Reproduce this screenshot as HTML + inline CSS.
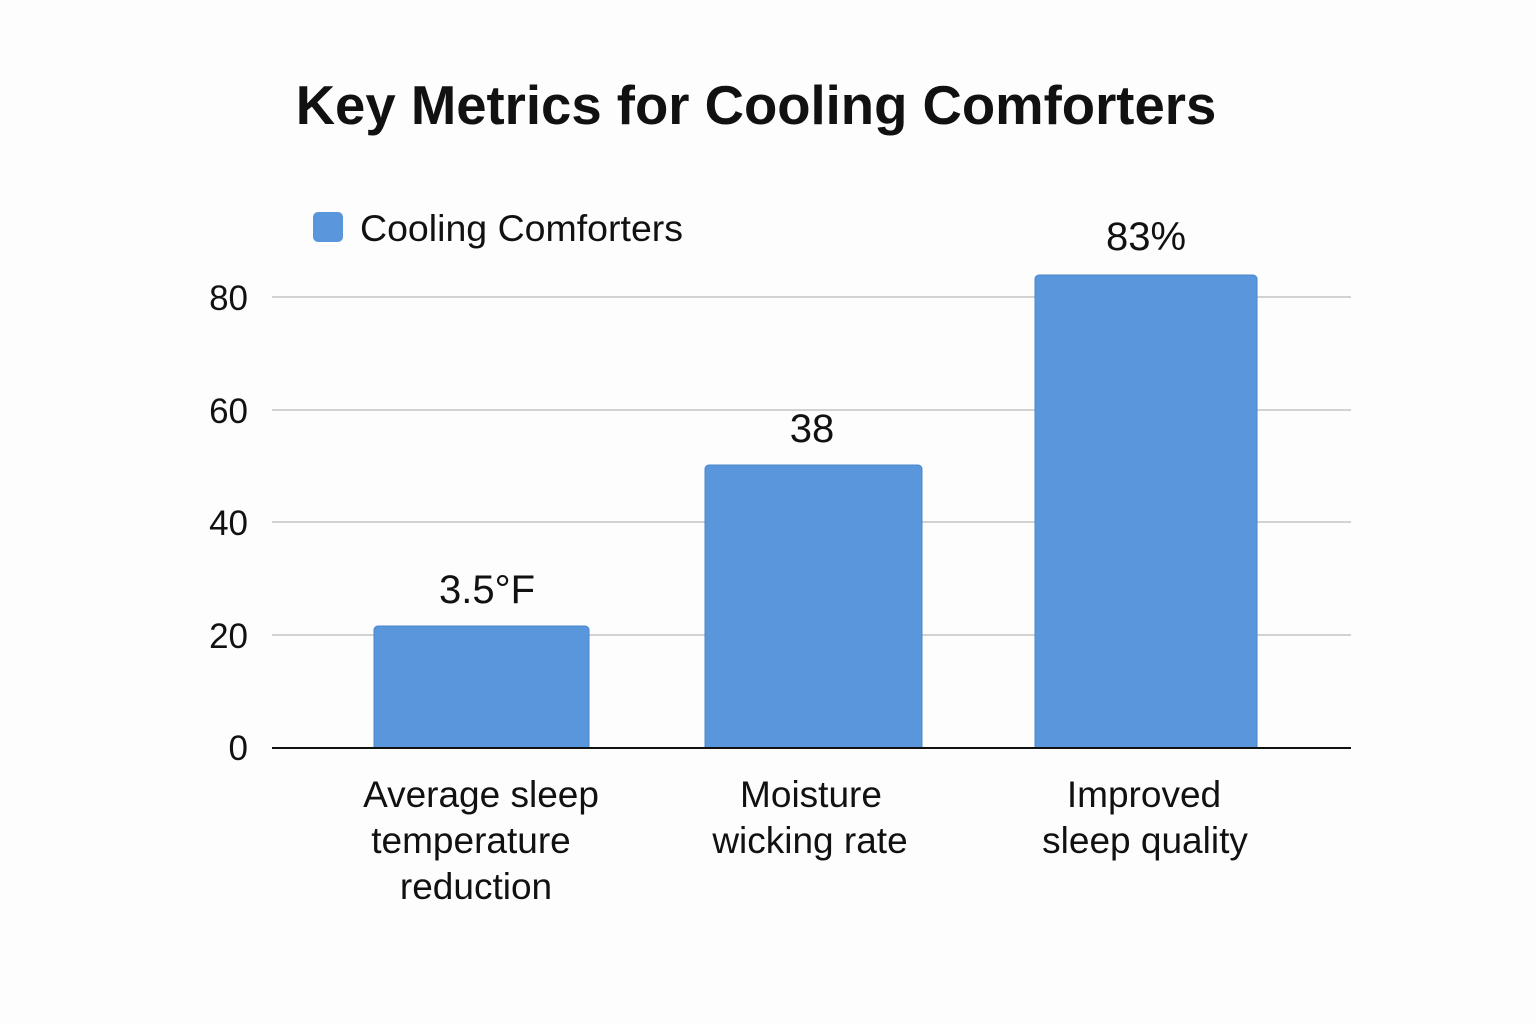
<!DOCTYPE html>
<html><head><meta charset="utf-8"><style>
html,body{margin:0;padding:0;background:#fdfdfd;}
svg{display:block;font-family:"Liberation Sans","DejaVu Sans",sans-serif;}
</style></head><body>
<svg width="1536" height="1024" viewBox="0 0 1536 1024">
<rect width="1536" height="1024" fill="#fdfdfd"/>
<text x="756" y="124" text-anchor="middle" font-size="54.5" font-weight="bold" fill="#111">Key Metrics for Cooling Comforters</text>
<rect x="313" y="212" width="30" height="30" rx="5" fill="#5a96dc"/>
<text x="360" y="241" font-size="37.5" fill="#111">Cooling Comforters</text>
<g stroke="#c4c4c4" stroke-width="1.5">
<line x1="272" y1="297" x2="1351" y2="297"/>
<line x1="272" y1="410" x2="1351" y2="410"/>
<line x1="272" y1="522" x2="1351" y2="522"/>
<line x1="272" y1="635" x2="1351" y2="635"/>
</g>
<g font-size="35" fill="#111" text-anchor="end">
<text x="248" y="310">80</text>
<text x="248" y="423">60</text>
<text x="248" y="535">40</text>
<text x="248" y="648">20</text>
<text x="248" y="760">0</text>
</g>
<g fill="#5a96dc" stroke="#4a86cc" stroke-width="1">
<path d="M374 748 V630 a4 4 0 0 1 4 -4 H585 a4 4 0 0 1 4 4 V748 Z"/>
<path d="M705 748 V469 a4 4 0 0 1 4 -4 H918 a4 4 0 0 1 4 4 V748 Z"/>
<path d="M1035 748 V279 a4 4 0 0 1 4 -4 H1253 a4 4 0 0 1 4 4 V748 Z"/>
</g>
<line x1="272" y1="748" x2="1351" y2="748" stroke="#111" stroke-width="2"/>
<g font-size="40" fill="#111" text-anchor="middle">
<text x="487" y="603">3.5°F</text>
<text x="812" y="442">38</text>
<text x="1146" y="250">83%</text>
</g>
<g font-size="37" fill="#111" text-anchor="middle">
<text x="481" y="807">Average sleep</text>
<text x="471" y="853">temperature</text>
<text x="476" y="899">reduction</text>
<text x="811" y="807">Moisture</text>
<text x="810" y="853">wicking rate</text>
<text x="1144" y="807">Improved</text>
<text x="1145" y="853">sleep quality</text>
</g>
</svg>
</body></html>
